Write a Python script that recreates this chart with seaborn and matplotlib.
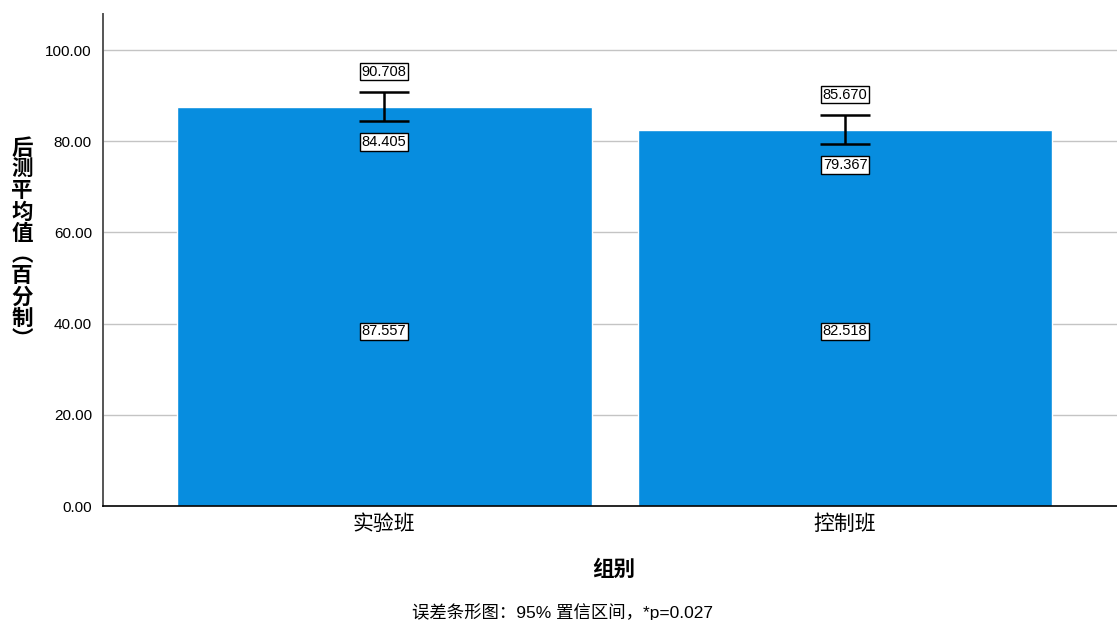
import matplotlib
matplotlib.use('Agg')
import matplotlib.pyplot as plt
import seaborn as sns
import numpy as np
import pandas as pd

# data
groups = ['实验班', '控制班']
means = [87.557, 82.518]
ci_low = [84.405, 79.367]
ci_high = [90.708, 85.670]
yticks = [0, 20, 40, 60, 80, 100]

sns.set_style('white')
plt.rcParams['font.family'] = ['Liberation Sans', 'Noto Sans CJK SC', 'DejaVu Sans']
plt.rcParams['text.color'] = 'black'
plt.rcParams['xtick.color'] = 'black'
plt.rcParams['ytick.color'] = 'black'

df = pd.DataFrame({'group': groups, 'mean': means})

fig = plt.figure(figsize=(11.17, 6.2), dpi=100)
ax = fig.add_axes([103/1117, 1-506/620, 1-103/1117, (506-14)/620])

sns.barplot(x='group', y='mean', data=df, color='#078ddf', saturation=1,
            width=0.9, errorbar=None, ax=ax, zorder=2)

x = np.arange(len(groups))
lo = np.array(means) - np.array(ci_low)
hi = np.array(ci_high) - np.array(means)
ax.errorbar(x, means, yerr=[lo, hi], fmt='none', ecolor='black',
            elinewidth=1.8, capsize=18, capthick=1.8, zorder=3)

box = dict(boxstyle='square,pad=0.12', fc='white', ec='black', lw=1)
for i in range(len(groups)):
    ax.annotate(f'{ci_high[i]:.3f}', xy=(x[i], ci_high[i]), xytext=(0, 15),
                textcoords='offset points', ha='center', va='center',
                fontsize=10.5, bbox=box, zorder=4)
    ax.annotate(f'{ci_low[i]:.3f}', xy=(x[i], ci_low[i]), xytext=(0, -15),
                textcoords='offset points', ha='center', va='center',
                fontsize=10.5, bbox=box, zorder=4)
    ax.text(x[i], 38.3, f'{means[i]:.3f}', ha='center', va='center',
            fontsize=10.5, bbox=box, zorder=4)

ax.set_ylim(0, 107.9)
ax.set_xlim(-0.61, 1.59)
ax.set_yticks(yticks)
ax.set_yticklabels([f'{v:.2f}' for v in yticks], fontsize=11)
ax.tick_params(axis='y', length=0, pad=8)
ax.tick_params(axis='x', length=0, pad=6, labelsize=15)
for v in yticks[1:]:
    ax.axhline(v, color='#c4c4c4', lw=1, zorder=1)

ax.set_xlabel('')
ax.set_ylabel('')
for s in ['top', 'right']:
    ax.spines[s].set_visible(False)
ax.spines['left'].set_color('#555555')
ax.spines['left'].set_linewidth(1.4)
ax.spines['bottom'].set_color('black')
ax.spines['bottom'].set_linewidth(1.2)

fig.text(614/1117, 1-570/620, '组别', ha='center', va='center',
         fontsize=15.5, fontweight='bold')
fig.text(22/1117, 1-245/620, '\n'.join('后测平均值︵百分制︶'), ha='center',
         va='center', fontsize=15.5, fontweight='bold', linespacing=1.02)
fig.text(563/1117, 1-612/620, '误差条形图：95% 置信区间，*p=0.027',
         ha='center', va='center', fontsize=12.5)

fig.savefig('out.png', dpi=100, facecolor='white')
